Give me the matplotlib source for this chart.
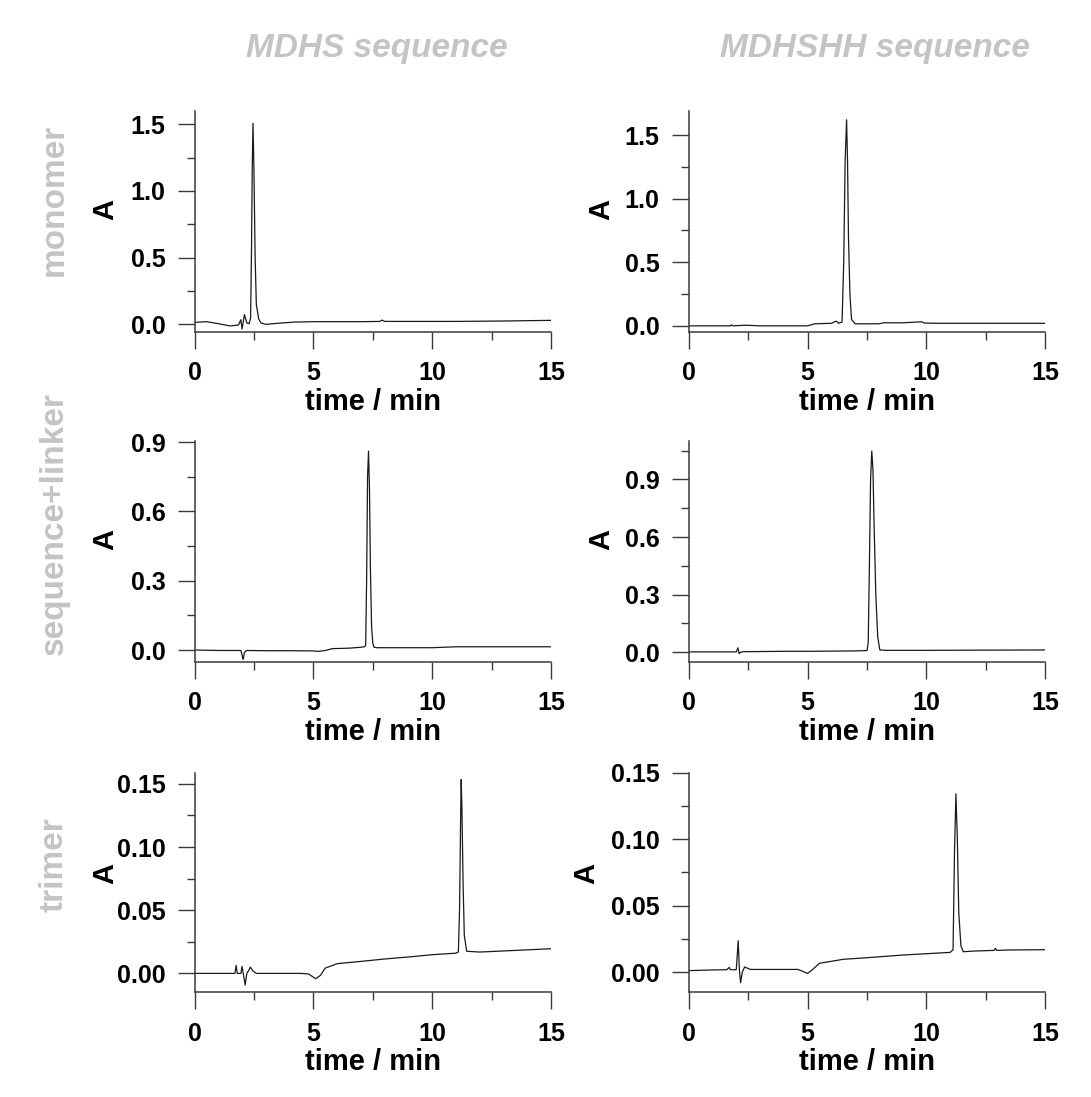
import numpy as np
import matplotlib
matplotlib.use('Agg')
import matplotlib.pyplot as plt
from matplotlib.ticker import MultipleLocator, FormatStrFormatter

plt.rcParams['font.family'] = ['Liberation Sans', 'DejaVu Sans']
plt.rcParams['font.weight'] = 'bold'

# chromatogram traces (time in min, absorbance)
t_mon_mdhs = [0, 0.5, 1.0, 1.5, 1.85, 1.95, 2.0, 2.05, 2.1, 2.2, 2.3, 2.36, 2.4, 2.43, 2.46, 2.5,
              2.55, 2.6, 2.7, 2.8, 3.0, 3.5, 4.2, 5, 6, 7, 7.8, 7.9, 8.0, 9, 11, 13, 15]
a_mon_mdhs = [0.015, 0.02, 0.005, -0.012, -0.005, 0.035, -0.035, 0.02, 0.073, 0.01, 0.005, 0.05, 0.6,
              1.2, 1.507, 1.15, 0.5, 0.15, 0.04, 0.01, 0.0, 0.008, 0.017, 0.02, 0.02, 0.02, 0.022, 0.032,
              0.022, 0.022, 0.022, 0.025, 0.03]

t_mon_shh = [0, 1, 1.75, 1.8, 1.85, 2.4, 3, 4, 5, 5.3, 6.0, 6.2, 6.25, 6.3, 6.45, 6.52, 6.58, 6.64,
             6.68, 6.72, 6.78, 6.85, 7.0, 8, 8.2, 9, 9.8, 9.9, 10.5, 12, 15]
a_mon_shh = [0.0, 0.0, 0.0, 0.008, 0.0, 0.005, 0.0, 0.0, 0.0, 0.016, 0.02, 0.037, 0.03, 0.02, 0.03, 0.5,
             1.3, 1.62, 1.3, 0.7, 0.25, 0.05, 0.016, 0.016, 0.024, 0.024, 0.032, 0.022, 0.02, 0.02, 0.02]

t_lnk_mdhs = [0, 1, 1.95, 2.02, 2.05, 2.1, 2.2, 3, 4, 5, 5.2, 5.5, 5.8, 6.5, 7.0, 7.15, 7.2, 7.24, 7.28,
              7.32, 7.36, 7.4, 7.45, 7.5, 7.55, 7.7, 9, 10, 11, 13, 15]
a_lnk_mdhs = [0.0, -0.002, -0.002, -0.03, -0.04, -0.01, -0.002, -0.003, -0.003, -0.004, -0.006, -0.002,
              0.006, 0.008, 0.012, 0.014, 0.02, 0.3, 0.75, 0.861, 0.7, 0.35, 0.1, 0.03, 0.012, 0.01,
              0.01, 0.01, 0.014, 0.014, 0.014]

t_lnk_shh = [0, 1, 2.0, 2.07, 2.12, 2.18, 2.3, 4, 5, 7, 7.5, 7.55, 7.6, 7.65, 7.7, 7.75, 7.8, 7.87,
             7.95, 8.04, 8.3, 10, 12, 15]
a_lnk_shh = [0.002, 0.002, 0.002, 0.023, -0.007, 0.0, 0.003, 0.005, 0.005, 0.007, 0.009, 0.05, 0.45,
             0.9, 1.048, 0.95, 0.65, 0.3, 0.08, 0.012, 0.01, 0.01, 0.011, 0.012]

t_tri_mdhs = [0, 1.0, 1.7, 1.75, 1.8, 1.95, 2.0, 2.05, 2.13, 2.2, 2.3, 2.35, 2.45, 2.6, 3.5, 4.5, 4.8,
              5.1, 5.3, 5.5, 6, 7, 8, 9, 10, 11, 11.1, 11.15, 11.2, 11.22, 11.25, 11.3, 11.35, 11.45,
              12, 13.5, 15]
a_tri_mdhs = [0.0, 0.0, 0.0, 0.0063, 0.0, 0.0, 0.0055, 0.0, -0.0092, 0.0, 0.003, 0.005, 0.002, 0.0, 0.0,
              0.0, -0.0005, -0.0042, -0.0015, 0.0042, 0.0077, 0.0095, 0.0114, 0.013, 0.0148, 0.016,
              0.017, 0.05, 0.13, 0.1534, 0.13, 0.07, 0.03, 0.0175, 0.0169, 0.0182, 0.0195]

t_tri_shh = [0, 1.0, 1.6, 1.7, 1.75, 2.0, 2.08, 2.13, 2.18, 2.25, 2.35, 2.6, 3.5, 4.6, 5.0, 5.2, 5.5,
             6.5, 7.5, 9, 10, 11, 11.12, 11.18, 11.24, 11.3, 11.36, 11.45, 11.55, 12, 12.85, 12.9,
             12.95, 13.5, 15]
a_tri_shh = [0.0013, 0.0018, 0.002, 0.0037, 0.002, 0.002, 0.0238, 0.002, -0.0078, 0.0, 0.004, 0.0022,
             0.0022, 0.0022, -0.0008, 0.002, 0.0068, 0.0098, 0.011, 0.013, 0.014, 0.015, 0.017, 0.09,
             0.134, 0.1, 0.045, 0.02, 0.0155, 0.016, 0.0165, 0.018, 0.0165, 0.0168, 0.017]

col_titles = ['MDHS sequence', 'MDHSHH sequence']
row_titles = ['monomer', 'sequence+linker', 'trimer']

traces = [[(t_mon_mdhs, a_mon_mdhs), (t_mon_shh, a_mon_shh)],
          [(t_lnk_mdhs, a_lnk_mdhs), (t_lnk_shh, a_lnk_shh)],
          [(t_tri_mdhs, a_tri_mdhs), (t_tri_shh, a_tri_shh)]]

ylims = [[(-0.057, 1.60), (-0.048, 1.69)],
         [(-0.053, 0.905), (-0.052, 1.10)],
         [(-0.015, 0.159), (-0.015, 0.15)]]
ymajor = [0.5, 0.3, 0.05]
yfmt = ['%.1f', '%.1f', '%.2f']

fig = plt.figure(figsize=(10.91, 10.97), dpi=100)

lefts = [0.1783, 0.6313]
bottoms = [0.6974, 0.3963, 0.0954]
heights = [0.2015, 0.2017, 0.2004]
ylab_x = [[-0.212, -0.206], [-0.212, -0.205], [-0.212, -0.248]]
ylab_y = [0.553, 0.553, 0.541]

spine_c = '#3a3a3a'
for r in range(3):
    for c in range(2):
        ax = fig.add_axes([lefts[c], bottoms[r], 0.3268, heights[r]])
        t, a = traces[r][c]
        ax.plot(t, a, color='#1a1a1a', lw=0.9)
        ax.set_xlim(0, 15)
        ax.set_ylim(*ylims[r][c])
        for s in ['top', 'right']:
            ax.spines[s].set_visible(False)
        for s in ['left', 'bottom']:
            ax.spines[s].set_color(spine_c)
            ax.spines[s].set_linewidth(1.1)
        ax.xaxis.set_major_locator(MultipleLocator(5))
        ax.xaxis.set_minor_locator(MultipleLocator(2.5))
        ax.yaxis.set_major_locator(MultipleLocator(ymajor[r]))
        ax.yaxis.set_minor_locator(MultipleLocator(ymajor[r] / 2))
        ax.yaxis.set_major_formatter(FormatStrFormatter(yfmt[r]))
        ax.tick_params(which='major', direction='out', length=12, width=1.0, color=spine_c,
                       labelsize=18)
        ax.tick_params(which='minor', direction='out', length=6, width=1.0, color=spine_c)
        ax.tick_params(axis='y', pad=9)
        ax.tick_params(axis='x', pad=9)
        ax.set_xlabel('time / min', fontsize=21, fontweight='bold', labelpad=2)
        ax.set_ylabel('A', fontsize=21, fontweight='bold')
        ax.yaxis.set_label_coords(ylab_x[r][c], ylab_y[r])

grey = '#c4c4c4'
fig.text(0.3455, 0.9478, col_titles[0], fontsize=24, fontweight='bold', style='italic',
         color=grey, ha='center', va='baseline')
fig.text(0.802, 0.9478, col_titles[1], fontsize=24, fontweight='bold', style='italic',
         color=grey, ha='center', va='baseline')
row_y = [200, 523.5, 865]
for name, yc in zip(row_titles, row_y):
    fig.text(63 / 1091, 1 - yc / 1097, name, fontsize=24, fontweight='bold', color=grey,
             rotation=90, ha='center', va='baseline', rotation_mode='anchor')

fig.savefig('out.png', dpi=100)
